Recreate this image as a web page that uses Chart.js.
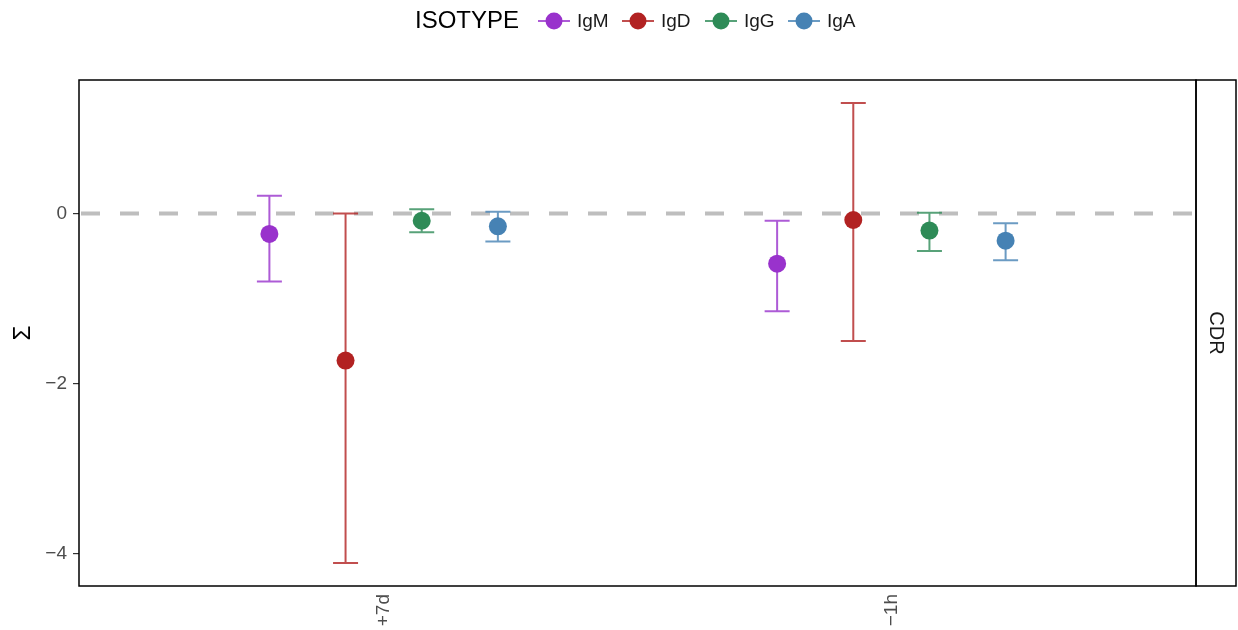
<!DOCTYPE html>
<html>
<head>
<meta charset="utf-8">
<script src="https://cdn.jsdelivr.net/npm/chart.js@4.4.0/dist/chart.umd.min.js"></script>
<style>
  body { margin: 0; background: #fff; }
  #wrap { width: 1238px; height: 630px; }
</style>
</head>
<body>
<div id="wrap"><canvas id="sigmaChart" width="1238" height="630"></canvas></div>
<script>
// Data
const categories = ['+7d', '\u22121h'];
const isotypes = ['IgM', 'IgD', 'IgG', 'IgA'];
const colors = ['#9932CC', '#B22222', '#2E8B57', '#4682B4'];
const barColors = ['rgba(153,50,204,0.8)', 'rgba(178,34,34,0.8)', 'rgba(46,139,87,0.8)', 'rgba(70,130,180,0.8)'];
const dodge = [-0.225, -0.075, 0.075, 0.225];
const yTicks = [-4, -2, 0];
const stripLabel = 'CDR';

// per isotype: [+7d, -1h]
const meanIgM = [-0.24, -0.59];
const lowIgM = [-0.80, -1.15];
const highIgM = [0.21, -0.085];
const meanIgD = [-1.73, -0.076];
const lowIgD = [-4.11, -1.50];
const highIgD = [0.0, 1.30];
const meanIgG = [-0.085, -0.20];
const lowIgG = [-0.22, -0.44];
const highIgG = [0.05, 0.01];
const meanIgA = [-0.15, -0.32];
const lowIgA = [-0.33, -0.55];
const highIgA = [0.02, -0.115];

const means = [meanIgM, meanIgD, meanIgG, meanIgA];
const lows = [lowIgM, lowIgD, lowIgG, lowIgA];
const highs = [highIgM, highIgD, highIgG, highIgA];

const FONT = '"Liberation Sans", Arial, sans-serif';

const datasets = isotypes.map((iso, i) => ({
  label: iso,
  data: categories.map((c, j) => ({ x: j + 1 + dodge[i], y: means[i][j], lo: lows[i][j], hi: highs[i][j] })),
  backgroundColor: colors[i],
  borderColor: colors[i],
  pointRadius: 9,
  pointBorderWidth: 0,
  showLine: false
}));

// Extra drawing: zero line, error bars, panel box, strip, legend
const extras = {
  id: 'extras',
  beforeDatasetsDraw(chart) {
    const { ctx, chartArea: a, scales: { x, y } } = chart;
    ctx.save();
    // dashed zero line
    ctx.strokeStyle = '#BEBEBE';
    ctx.lineWidth = 4;
    ctx.setLineDash([19, 20]);
    ctx.lineDashOffset = -2;
    const y0 = y.getPixelForValue(0);
    ctx.beginPath();
    ctx.moveTo(a.left, y0);
    ctx.lineTo(a.right, y0);
    ctx.stroke();
    ctx.setLineDash([]);
    // error bars
    chart.data.datasets.forEach((ds, i) => {
      ctx.strokeStyle = barColors[i];
      ctx.lineWidth = 2;
      ds.data.forEach(p => {
        const px = x.getPixelForValue(p.x);
        const yl = y.getPixelForValue(p.lo);
        const yh = y.getPixelForValue(p.hi);
        const half = 12.5;
        ctx.beginPath();
        ctx.moveTo(px, yl); ctx.lineTo(px, yh);
        ctx.moveTo(px - half, yl); ctx.lineTo(px + half, yl);
        ctx.moveTo(px - half, yh); ctx.lineTo(px + half, yh);
        ctx.stroke();
      });
    });
    ctx.restore();
  },
  afterDraw(chart) {
    const { ctx, chartArea: a } = chart;
    ctx.save();
    // panel border
    ctx.strokeStyle = '#000';
    ctx.lineWidth = 1.5;
    ctx.strokeRect(a.left, a.top, a.right - a.left, a.bottom - a.top);
    // strip
    ctx.strokeRect(a.right, a.top, 1236 - a.right, a.bottom - a.top);
    ctx.fillStyle = '#1a1a1a';
    ctx.font = '20px ' + FONT;
    ctx.textAlign = 'center';
    ctx.textBaseline = 'middle';
    ctx.translate((a.right + 1236) / 2, (a.top + a.bottom) / 2);
    ctx.rotate(Math.PI / 2);
    ctx.fillText(stripLabel, 0, 0);
    ctx.restore();

    // legend
    ctx.save();
    ctx.textBaseline = 'middle';
    ctx.textAlign = 'left';
    ctx.fillStyle = '#000';
    ctx.font = '24px ' + FONT;
    const ly = 21;
    ctx.fillText('ISOTYPE', 415, ly);
    const keyX = [554, 638, 721, 804];
    isotypes.forEach((iso, i) => {
      const cx = keyX[i];
      ctx.strokeStyle = barColors[i];
      ctx.lineWidth = 2;
      ctx.beginPath();
      ctx.moveTo(cx - 16, ly); ctx.lineTo(cx + 16, ly);
      ctx.stroke();
      ctx.fillStyle = colors[i];
      ctx.beginPath();
      ctx.arc(cx, ly, 8.5, 0, Math.PI * 2);
      ctx.fill();
      ctx.fillStyle = '#1a1a1a';
      ctx.font = '19px ' + FONT;
      ctx.fillText(iso, cx + 23, ly + 1);
    });
    ctx.restore();
  }
};

new Chart(document.getElementById('sigmaChart'), {
  type: 'scatter',
  data: { datasets },
  options: {
    responsive: false,
    animation: false,
    devicePixelRatio: 1,
    layout: { padding: { top: 80, right: 42, left: 0, bottom: 0 } },
    plugins: {
      legend: { display: false },
      tooltip: { enabled: false }
    },
    scales: {
      x: {
        type: 'linear',
        min: 0.4,
        max: 2.6,
        afterBuildTicks: s => { s.ticks = categories.map((c, j) => ({ value: j + 1 })); },
        afterFit: s => { s.height = 44; },
        grid: { display: false },
        border: { display: false },
        ticks: {
          minRotation: 90,
          maxRotation: 90,
          padding: 0,
          color: '#4d4d4d',
          font: { size: 19, family: FONT },
          callback: v => categories[Math.round(v) - 1]
        }
      },
      y: {
        min: -4.382,
        max: 1.571,
        afterBuildTicks: s => { s.ticks = yTicks.map(v => ({ value: v })); },
        afterFit: s => { s.width = 79; },
        grid: { drawOnChartArea: false, drawTicks: true, tickLength: 6, color: '#333', lineWidth: 1.2 },
        border: { display: false },
        title: { display: true, text: '\u03A3', color: '#000', font: { size: 24, family: FONT }, padding: { top: 9, bottom: 0 } },
        ticks: {
          padding: 6,
          color: '#4d4d4d',
          font: { size: 19, family: FONT },
          callback: v => (v < 0 ? '\u2212' + Math.abs(v) : String(v))
        }
      }
    }
  },
  plugins: [extras]
});
</script>
</body>
</html>
